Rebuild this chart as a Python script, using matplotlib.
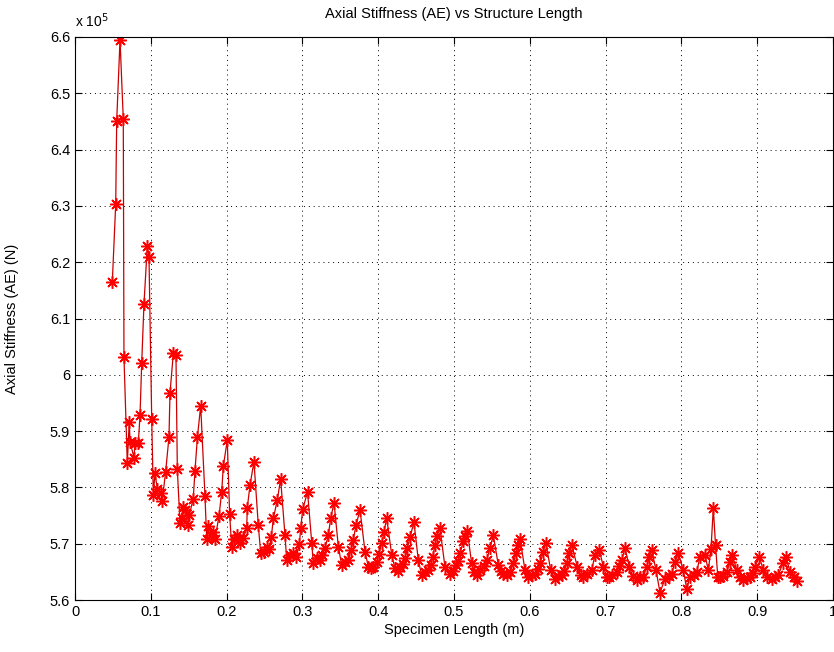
import numpy as np
import matplotlib
matplotlib.use("Agg")
import matplotlib.pyplot as plt
from matplotlib.ticker import FuncFormatter

# specimen length (m), one line per stiffness cycle
length_m = [
    0.0492, 0.0537, 0.0550, 0.0594,
    0.0637, 0.0646, 0.0690, 0.0716, 0.0726, 0.0778, 0.0792, 0.0835, 0.0858, 0.0880, 0.0910, 0.0954,
    0.0976, 0.1012, 0.1033, 0.1055, 0.1086, 0.1140, 0.1150, 0.1196, 0.1240, 0.1253, 0.1297,
    0.1332, 0.1350, 0.1385, 0.1408, 0.1429, 0.1451, 0.1486, 0.1508, 0.1560, 0.1583, 0.1615, 0.1658,
    0.1715, 0.1737, 0.1759, 0.1800, 0.1825, 0.1847, 0.1900, 0.1935, 0.1957, 0.2009,
    0.2040, 0.2067, 0.2100, 0.2141, 0.2177, 0.2220, 0.2265, 0.2273, 0.2309, 0.2361,
    0.2418, 0.2450, 0.2490, 0.2529, 0.2560, 0.2590, 0.2617, 0.2669, 0.2713,
    0.2770, 0.2793, 0.2830, 0.2880, 0.2920, 0.2960, 0.2977, 0.3004, 0.3068,
    0.3123, 0.3144, 0.3190, 0.3232, 0.3260, 0.3298, 0.3342, 0.3373, 0.3417,
    0.3474, 0.3518, 0.3560, 0.3606, 0.3640, 0.3672, 0.3707, 0.3760,
    0.3826, 0.3870, 0.3900, 0.3935, 0.3980, 0.4010, 0.4046, 0.4077, 0.4112,
    0.4178, 0.4222, 0.4255, 0.4288, 0.4325, 0.4354, 0.4384, 0.4420, 0.4472,
    0.4529, 0.4574, 0.4615, 0.4661, 0.4690, 0.4719, 0.4749, 0.4772, 0.4815,
    0.4881, 0.4947, 0.4985, 0.5026, 0.5055, 0.5079, 0.5123, 0.5150, 0.5175,
    0.5233, 0.5265, 0.5299, 0.5343, 0.5390, 0.5430, 0.5475, 0.5518,
    0.5585, 0.5615, 0.5650, 0.5695, 0.5739, 0.5783, 0.5818, 0.5848, 0.5871,
    0.5937, 0.5980, 0.6025, 0.6069, 0.6105, 0.6135, 0.6178, 0.6210,
    0.6276, 0.6332, 0.6375, 0.6420, 0.6455, 0.6486, 0.6521, 0.6553,
    0.6627, 0.6670, 0.6706, 0.6760, 0.6816, 0.6860, 0.6917,
    0.6970, 0.7014, 0.7045, 0.7080, 0.7146, 0.7180, 0.7212, 0.7256,
    0.7313, 0.7360, 0.7410, 0.7455, 0.7498, 0.7542, 0.7577, 0.7608,
    0.7665, 0.7718, 0.7784, 0.7830, 0.7872, 0.7916, 0.7960,
    0.8025, 0.8070, 0.8113, 0.8160, 0.8202, 0.8245, 0.8311,
    0.8355, 0.8390, 0.8421, 0.8450, 0.8480, 0.8509, 0.8550, 0.8597, 0.8641, 0.8671,
    0.8730, 0.8775, 0.8817, 0.8860, 0.8905, 0.8940, 0.8971, 0.9028,
    0.9080, 0.9135, 0.9191, 0.9235, 0.9279, 0.9336, 0.9380,
    0.9433, 0.9480, 0.9521,
]

# axial stiffness AE in units of 1e5 N
stiffness_e5 = [
    6.164, 6.303, 6.451, 6.595,
    6.454, 6.031, 5.843, 5.917, 5.881, 5.853, 5.878, 5.878, 5.929, 6.021, 6.126, 6.229,
    6.210, 5.922, 5.787, 5.825, 5.798, 5.790, 5.776, 5.828, 5.890, 5.967, 6.038,
    6.035, 5.832, 5.737, 5.745, 5.766, 5.760, 5.733, 5.751, 5.780, 5.830, 5.889, 5.945,
    5.784, 5.709, 5.732, 5.715, 5.721, 5.709, 5.749, 5.792, 5.838, 5.884,
    5.752, 5.695, 5.708, 5.715, 5.701, 5.710, 5.727, 5.764, 5.804, 5.846,
    5.733, 5.683, 5.686, 5.695, 5.690, 5.712, 5.745, 5.778, 5.815,
    5.715, 5.671, 5.680, 5.683, 5.677, 5.699, 5.727, 5.761, 5.792,
    5.702, 5.665, 5.675, 5.671, 5.680, 5.692, 5.715, 5.745, 5.773,
    5.695, 5.662, 5.668, 5.671, 5.688, 5.707, 5.733, 5.760,
    5.686, 5.659, 5.656, 5.659, 5.668, 5.682, 5.701, 5.721, 5.746,
    5.680, 5.656, 5.652, 5.659, 5.664, 5.674, 5.692, 5.712, 5.738,
    5.671, 5.644, 5.650, 5.653, 5.662, 5.677, 5.698, 5.714, 5.727,
    5.659, 5.647, 5.652, 5.662, 5.670, 5.683, 5.704, 5.713, 5.723,
    5.665, 5.650, 5.644, 5.653, 5.660, 5.671, 5.692, 5.715,
    5.662, 5.652, 5.647, 5.645, 5.650, 5.665, 5.683, 5.698, 5.708,
    5.653, 5.641, 5.644, 5.647, 5.655, 5.665, 5.686, 5.702,
    5.653, 5.638, 5.642, 5.644, 5.652, 5.665, 5.683, 5.698,
    5.659, 5.645, 5.641, 5.646, 5.653, 5.680, 5.689,
    5.659, 5.641, 5.640, 5.644, 5.650, 5.660, 5.671, 5.692,
    5.659, 5.642, 5.635, 5.640, 5.641, 5.659, 5.677, 5.689,
    5.653, 5.613, 5.638, 5.642, 5.647, 5.668, 5.683,
    5.653, 5.620, 5.641, 5.645, 5.650, 5.677, 5.680,
    5.653, 5.690, 5.763, 5.698, 5.641, 5.641, 5.643, 5.650, 5.668, 5.680,
    5.653, 5.640, 5.635, 5.639, 5.641, 5.648, 5.659, 5.677,
    5.653, 5.640, 5.638, 5.641, 5.644, 5.665, 5.676,
    5.650, 5.640, 5.633,
]

x_ticks = [0, 0.1, 0.2, 0.3, 0.4, 0.5, 0.6, 0.7, 0.8, 0.9, 1]
y_ticks = [5.6, 5.7, 5.8, 5.9, 6.0, 6.1, 6.2, 6.3, 6.4, 6.5, 6.6]

plt.rcParams['font.family'] = ['Liberation Sans', 'DejaVu Sans']
plt.rcParams['font.size'] = 10.5

fig = plt.figure(figsize=(8.34, 6.52), dpi=100)
ax = fig.add_axes([75/834, 1 - 600/652, 758/834, 563/652])

# matlab-like 'r-*' : line plus 8-spoke asterisk markers
ax.plot(length_m, stiffness_e5, color='#cc0000', linestyle='-', linewidth=0.9,
        marker=(8, 2, 0), markersize=9, markeredgewidth=1.1,
        markeredgecolor='red', markerfacecolor='red')

ax.set_xlim(0, 1)
ax.set_ylim(5.6, 6.6)
ax.set_xticks(x_ticks)
ax.set_yticks(y_ticks)
fmt = FuncFormatter(lambda v, p: "%g" % round(v, 3))
ax.xaxis.set_major_formatter(fmt)
ax.yaxis.set_major_formatter(fmt)
ax.tick_params(direction='in', length=5, top=True, right=True, width=0.8)
ax.grid(True, color='black', linestyle=(0, (1, 4)), linewidth=0.7)
for s in ax.spines.values():
    s.set_linewidth(0.8)

ax.text(0.0, 1.012, r"x 10$^5$", transform=ax.transAxes, ha='left', va='bottom', fontsize=10)
ax.set_title("Axial Stiffness (AE) vs Structure Length", fontsize=10.5, pad=14)
ax.set_xlabel("Specimen Length (m)", labelpad=3)
ax.set_ylabel("Axial Stiffness (AE) (N)", labelpad=22)

fig.savefig("out.png", dpi=100)
